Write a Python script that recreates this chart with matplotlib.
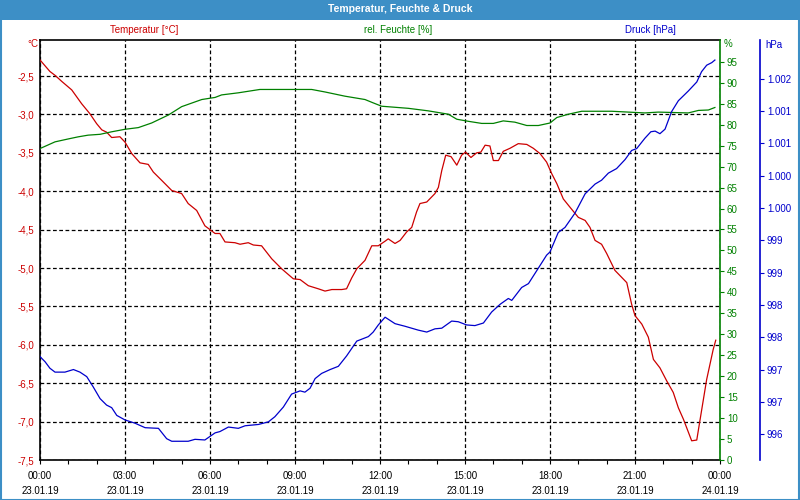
import numpy as np
import matplotlib
matplotlib.use("Agg")
import matplotlib.pyplot as plt
from matplotlib.patches import Rectangle
from matplotlib.ticker import FuncFormatter, FixedLocator, MultipleLocator

# ---------------- data (hours since 23.01.19 00:00) ----------------
temp_h = [0.0, 0.35, 0.53, 0.77, 1.12, 1.47, 1.76, 2.0, 2.18, 2.35,
          2.53, 2.82, 3.0, 3.24, 3.53, 3.82, 4.0, 4.3, 4.65, 5.0,
          5.23, 5.53, 5.82, 6.18, 6.35, 6.53, 6.88, 7.06, 7.35, 7.53,
          7.82, 8.18, 8.53, 8.94, 9.18, 9.47, 9.82, 10.06, 10.3, 10.65,
          10.82, 11.0, 11.18, 11.47, 11.71, 11.94, 12.18, 12.29, 12.53, 12.71,
          12.94, 13.12, 13.29, 13.41, 13.65, 13.94, 14.06, 14.18, 14.32, 14.51,
          14.71, 14.88, 15.02, 15.21, 15.41, 15.56, 15.71, 15.88, 16.0, 16.18,
          16.35, 16.59, 16.88, 17.18, 17.41, 17.65, 17.88, 18.06, 18.24, 18.47,
          18.71, 19.0, 19.24, 19.41, 19.59, 19.82, 20.0, 20.29, 20.71, 20.88,
          21.0, 21.24, 21.47, 21.65, 21.88, 22.12, 22.35, 22.53, 22.71, 23.0,
          23.18, 23.29, 23.53, 23.76, 23.85]
temperature = [-2.29, -2.44, -2.49, -2.57, -2.68, -2.86, -2.99, -3.12, -3.20, -3.23,
               -3.30, -3.29, -3.36, -3.51, -3.63, -3.65, -3.75, -3.86, -3.99, -4.03,
               -4.16, -4.25, -4.45, -4.55, -4.55, -4.66, -4.67, -4.69, -4.67, -4.70,
               -4.71, -4.88, -5.01, -5.14, -5.15, -5.23, -5.27, -5.30, -5.28, -5.28,
               -5.27, -5.13, -5.01, -4.90, -4.71, -4.71, -4.65, -4.62, -4.68, -4.64,
               -4.53, -4.47, -4.27, -4.16, -4.14, -4.03, -3.95, -3.73, -3.53, -3.55,
               -3.66, -3.53, -3.49, -3.56, -3.50, -3.49, -3.40, -3.41, -3.60, -3.60,
               -3.48, -3.44, -3.38, -3.39, -3.44, -3.51, -3.62, -3.77, -3.90, -4.10,
               -4.21, -4.34, -4.38, -4.47, -4.64, -4.69, -4.81, -5.03, -5.19, -5.47,
               -5.62, -5.73, -5.90, -6.19, -6.30, -6.47, -6.62, -6.82, -6.97, -7.25,
               -7.24, -6.99, -6.45, -6.06, -5.94]

hum_h = [0.0, 0.53, 1.0, 1.35, 1.70, 2.12, 2.53, 3.0, 3.47, 3.94,
         4.53, 5.0, 5.71, 6.18, 6.41, 7.0, 7.76, 9.59, 10.06, 10.76,
         11.47, 11.76, 12.06, 13.0, 13.7, 14.41, 14.71, 15.12, 15.59, 16.0,
         16.35, 16.76, 17.18, 17.59, 18.0, 18.24, 18.65, 19.12, 20.18, 21.35,
         21.82, 22.88, 23.24, 23.59, 23.82]
humidity = [74.3, 75.9, 76.6, 77.1, 77.5, 77.7, 78.3, 78.9, 79.3, 80.4,
            82.3, 84.3, 86.0, 86.5, 87.1, 87.6, 88.4, 88.4, 87.8, 86.8,
            86.0, 85.2, 84.4, 83.9, 83.3, 82.5, 81.3, 80.8, 80.3, 80.3,
            80.9, 80.6, 79.8, 79.8, 80.4, 81.7, 82.5, 83.2, 83.2, 82.8,
            83.0, 82.8, 83.4, 83.5, 84.1]

press_h = [0.0, 0.18, 0.35, 0.53, 0.88, 1.18, 1.41, 1.65, 1.88, 2.12,
           2.35, 2.53, 2.71, 3.0, 3.35, 3.71, 4.18, 4.47, 4.65, 5.23,
           5.47, 5.82, 6.18, 6.35, 6.65, 7.0, 7.24, 7.71, 8.06, 8.29,
           8.59, 8.88, 9.18, 9.35, 9.53, 9.71, 9.94, 10.24, 10.53, 10.82,
           11.18, 11.59, 11.76, 11.94, 12.18, 12.53, 12.88, 13.35, 13.65, 13.94,
           14.18, 14.53, 14.76, 15.06, 15.35, 15.65, 15.94, 16.24, 16.53, 16.65,
           17.0, 17.24, 17.59, 17.88, 18.0, 18.29, 18.53, 18.88, 19.24, 19.59,
           19.82, 20.06, 20.35, 20.65, 20.88, 21.06, 21.35, 21.56, 21.71, 21.88,
           22.06, 22.29, 22.53, 22.88, 23.18, 23.35, 23.53, 23.71, 23.82]
pressure = [997.20, 997.12, 997.02, 996.96, 996.96, 997.00, 996.96, 996.89, 996.73, 996.55,
            996.45, 996.41, 996.29, 996.22, 996.17, 996.10, 996.09, 995.93, 995.89, 995.89,
            995.92, 995.91, 996.02, 996.04, 996.11, 996.09, 996.13, 996.15, 996.19, 996.27,
            996.42, 996.62, 996.67, 996.65, 996.71, 996.86, 996.94, 997.00, 997.05, 997.21,
            997.44, 997.51, 997.58, 997.69, 997.81, 997.71, 997.67, 997.61, 997.58, 997.63,
            997.64, 997.75, 997.74, 997.69, 997.68, 997.72, 997.89, 998.01, 998.10, 998.07,
            998.27, 998.33, 998.57, 998.77, 998.82, 999.12, 999.20, 999.42, 999.72, 999.87,
            999.93, 1000.04, 1000.11, 1000.25, 1000.39, 1000.42, 1000.58, 1000.68, 1000.69, 1000.65,
            1000.72, 1000.99, 1001.16, 1001.31, 1001.45, 1001.61, 1001.71, 1001.75, 1001.79]

x_tick_hours = [0, 3, 6, 9, 12, 15, 18, 21, 24]
x_tick_labels = ["00:00\n23.01.19", "03:00\n23.01.19", "06:00\n23.01.19",
                 "09:00\n23.01.19", "12:00\n23.01.19", "15:00\n23.01.19",
                 "18:00\n23.01.19", "21:00\n23.01.19", "00:00\n24.01.19"]
temp_ticks = [-7.5, -7.0, -6.5, -6.0, -5.5, -5.0, -4.5, -4.0, -3.5, -3.0, -2.5]
hum_ticks = list(range(0, 100, 5))
press_ticks = [996.0, 996.5, 997.0, 997.5, 998.0, 998.5, 999.0, 999.5,
               1000.0, 1000.5, 1001.0, 1001.5]

title = "Temperatur, Feuchte & Druck"
label_temp = "Temperatur [°C]"
label_hum = "rel. Feuchte [%]"
label_press = "Druck [hPa]"

# ---------------- style ----------------
RED = "#cc0000"
GREEN = "#008000"
BLUE = "#0000cc"
BAR = "#3d8fc6"
FS = 7
plt.rcParams["font.family"] = ["Liberation Sans", "DejaVu Sans"]
plt.rcParams["font.size"] = FS

W, H = 800, 500
fig = plt.figure(figsize=(8, 5), dpi=100)
fig.patch.set_facecolor("white")

L, R, T, B = 40, 720, 40, 460
ax1 = fig.add_axes([L / W, 1 - B / H, (R - L) / W, (B - T) / H])
ax2 = ax1.twinx()
ax3 = ax1.twinx()

# title bar & frame
fig.patches.append(Rectangle((0, 1 - 20 / H), 1, 20 / H, transform=fig.transFigure,
                             facecolor=BAR, edgecolor="none", zorder=0))
fig.patches.append(Rectangle((0.5 / W, 0.5 / H), 1 - 1.5 / W, 1 - 1.5 / H,
                             transform=fig.transFigure, fill=False,
                             edgecolor=BAR, linewidth=1.5, zorder=0))
fig.text(0.5, 1 - 9.5 / H, title, color="white", fontweight="bold",
         fontsize=7.5, ha="center", va="center")

# series labels above plot
fig.text(144 / W, 1 - 30 / H, label_temp, color=RED, ha="center", va="center", fontsize=FS)
fig.text(398 / W, 1 - 30 / H, label_hum, color=GREEN, ha="center", va="center", fontsize=FS)
fig.text(650 / W, 1 - 30 / H, label_press, color=BLUE, ha="center", va="center", fontsize=FS)
fig.text(38 / W, 1 - 44 / H, "°C", color=RED, ha="right", va="center", fontsize=FS)
fig.text(724 / W, 1 - 44 / H, "%", color=GREEN, ha="left", va="center", fontsize=FS)
fig.text(765 / W, 1 - 45 / H, "hPa", color=BLUE, ha="left", va="center", fontsize=FS)

# lines
ax1.plot(temp_h, temperature, color=RED, linewidth=0.9, zorder=3)
ax2.plot(hum_h, humidity, color=GREEN, linewidth=0.9)
ax3.plot(press_h, pressure, color=BLUE, linewidth=0.9)

# axis 1: time + temperature
ax1.set_xlim(0, 24)
ax1.set_ylim(-7.5, -2.03)
ax1.xaxis.set_major_locator(FixedLocator(x_tick_hours))
ax1.set_xticklabels(x_tick_labels)
ax1.xaxis.set_minor_locator(MultipleLocator(1))
ax1.tick_params(axis="x", which="both", direction="out", length=3, width=0.8,
                colors="black", labelsize=FS, pad=5)
for lbl in ax1.get_xticklabels():
    lbl.set_linespacing(1.65)
ax1.yaxis.set_major_locator(FixedLocator(temp_ticks))
ax1.yaxis.set_major_formatter(FuncFormatter(lambda v, p: f"{v:.1f}".replace(".", ",")))
ax1.tick_params(axis="y", length=0, labelcolor=RED, labelsize=FS, pad=4)
ax1.grid(True, which="major", color="black", linestyle=(0, (3, 2)), linewidth=0.9)
ax1.set_axisbelow(True)
ax1.spines["right"].set_visible(False)
for s in ("left", "top", "bottom"):
    ax1.spines[s].set_color("black")
    ax1.spines[s].set_linewidth(1.2)

# axis 2: humidity
ax2.set_ylim(0, 100.2)
ax2.yaxis.set_major_locator(FixedLocator(hum_ticks))
ax2.yaxis.set_major_formatter(FuncFormatter(lambda v, p: f"{int(round(v))}"))
ax2.tick_params(axis="y", length=3, width=0.8, color=GREEN, labelcolor=GREEN,
                labelsize=FS, pad=2)
for s in ("left", "top", "bottom"):
    ax2.spines[s].set_visible(False)
ax2.spines["right"].set_color(GREEN)
ax2.spines["right"].set_linewidth(1.2)

# axis 3: pressure
def press_fmt(v, p):
    n = int(np.floor(v + 0.5))
    return f"{n:,}".replace(",", ".")

ax3.set_ylim(995.6, 1002.1)
ax3.spines["right"].set_position(("axes", (760 - L) / (R - L)))
ax3.yaxis.set_major_locator(FixedLocator(press_ticks))
ax3.yaxis.set_major_formatter(FuncFormatter(press_fmt))
ax3.tick_params(axis="y", length=3, width=0.8, color=BLUE, labelcolor=BLUE,
                labelsize=FS, pad=2)
for s in ("left", "top", "bottom"):
    ax3.spines[s].set_visible(False)
ax3.spines["right"].set_color(BLUE)
ax3.spines["right"].set_linewidth(1.2)

fig.savefig("out.png", dpi=100)
